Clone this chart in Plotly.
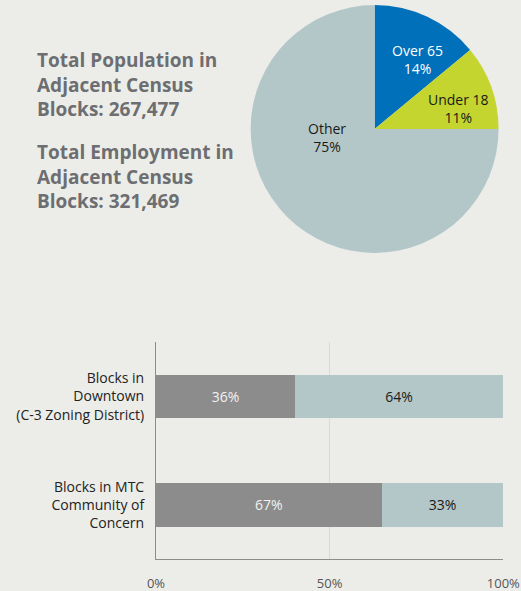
import plotly.graph_objects as go

# Pie data
pie_labels = ["Over 65", "Under 18", "Other"]
pie_values = [14, 11, 75]
pie_colors = ["#0070BA", "#C4D52F", "#B3C7C8"]
pie_text_colors = ["#FFFFFF", "#1a1a1a", "#1a1a1a"]

# Bar data
bar_categories = ["Blocks in<br>Downtown<br>(C-3 Zoning District)",
                  "Blocks in MTC<br>Community of<br>Concern"]
bar_first = [40, 65]
bar_second = [60, 35]
bar_first_labels = ["36%", "67%"]
bar_second_labels = ["64%", "33%"]
x_ticks = [0, 50, 100]
x_tick_labels = ["0%", "50%", "100%"]

# Label placement for the pie slices (pixel centre x, y of the two-line label)
pie_label_pos = [(417, 60), (458, 108), (327, 137)]

W, H = 521, 591
bg = "#ECEDE8"
font_family = "Open Sans, Noto Sans, sans-serif"

fig = go.Figure()

fig.add_trace(go.Pie(
    labels=pie_labels, values=pie_values,
    marker=dict(colors=pie_colors, line=dict(width=0)),
    sort=False, direction="clockwise", rotation=0,
    textinfo="none",
    domain=dict(x=[0.48, 0.958], y=[0.572, 0.9915]),
    showlegend=False, hoverinfo="label+percent",
))

fig.add_trace(go.Bar(
    y=bar_categories, x=bar_first, orientation="h",
    marker=dict(color="#8C8C8C", line=dict(width=0)),
    text=bar_first_labels, textposition="inside", insidetextanchor="middle",
    textfont=dict(size=14, color="#F2F2F2", family=font_family),
    width=0.4, showlegend=False,
))
fig.add_trace(go.Bar(
    y=bar_categories, x=bar_second, orientation="h",
    marker=dict(color="#B3C7C8", line=dict(width=0)),
    text=bar_second_labels, textposition="inside", insidetextanchor="middle",
    textfont=dict(size=14, color="#1a1a1a", family=font_family),
    width=0.4, showlegend=False,
))

total = sum(pie_values)
annotations = [
    dict(x=35 / W, y=1 - 45 / H, xref="paper", yref="paper",
         xanchor="left", yanchor="top", align="left", showarrow=False,
         text="<b>Total Population in<br>Adjacent Census<br>Blocks: 267,477</b>",
         font=dict(size=19, color="#6D6E71", family=font_family)),
    dict(x=35 / W, y=1 - 137 / H, xref="paper", yref="paper",
         xanchor="left", yanchor="top", align="left", showarrow=False,
         text="<b>Total Employment in<br>Adjacent Census<br>Blocks: 321,469</b>",
         font=dict(size=19, color="#6D6E71", family=font_family)),
]
for lab, val, col, (px, py) in zip(pie_labels, pie_values, pie_text_colors, pie_label_pos):
    annotations.append(dict(
        x=px / W, y=1 - py / H, xref="paper", yref="paper",
        xanchor="center", yanchor="middle", align="center", showarrow=False,
        text=f"{lab}<br>{round(100 * val / total)}%",
        font=dict(size=14, color=col, family=font_family)))

fig.update_layout(
    width=W, height=H,
    margin=dict(l=0, r=0, t=0, b=0, autoexpand=False),
    paper_bgcolor=bg, plot_bgcolor=bg,
    barmode="stack",
    font=dict(family=font_family),
    xaxis=dict(domain=[0.2994, 0.966], range=[0, 100], automargin=False,
               tickvals=x_ticks, ticktext=x_tick_labels,
               showgrid=True, gridcolor="#D9D9D9", gridwidth=1,
               showline=True, linecolor="#8C8C8C", linewidth=1,
               zeroline=False, ticks="", ticklabelstandoff=12,
               tickfont=dict(size=13, color="#555555")),
    yaxis=dict(domain=[0.054, 0.421], range=[1.5, -0.5], automargin=False,
               showgrid=False, showline=True, linecolor="#8C8C8C", linewidth=1,
               zeroline=False, ticks="", ticklabelstandoff=8,
               tickfont=dict(size=14, color="#222222")),
    annotations=annotations,
)

fig.write_html("out.html", config={"displayModeBar": False},
               post_script="document.body.style.margin='0';document.body.style.overflow='hidden';")
